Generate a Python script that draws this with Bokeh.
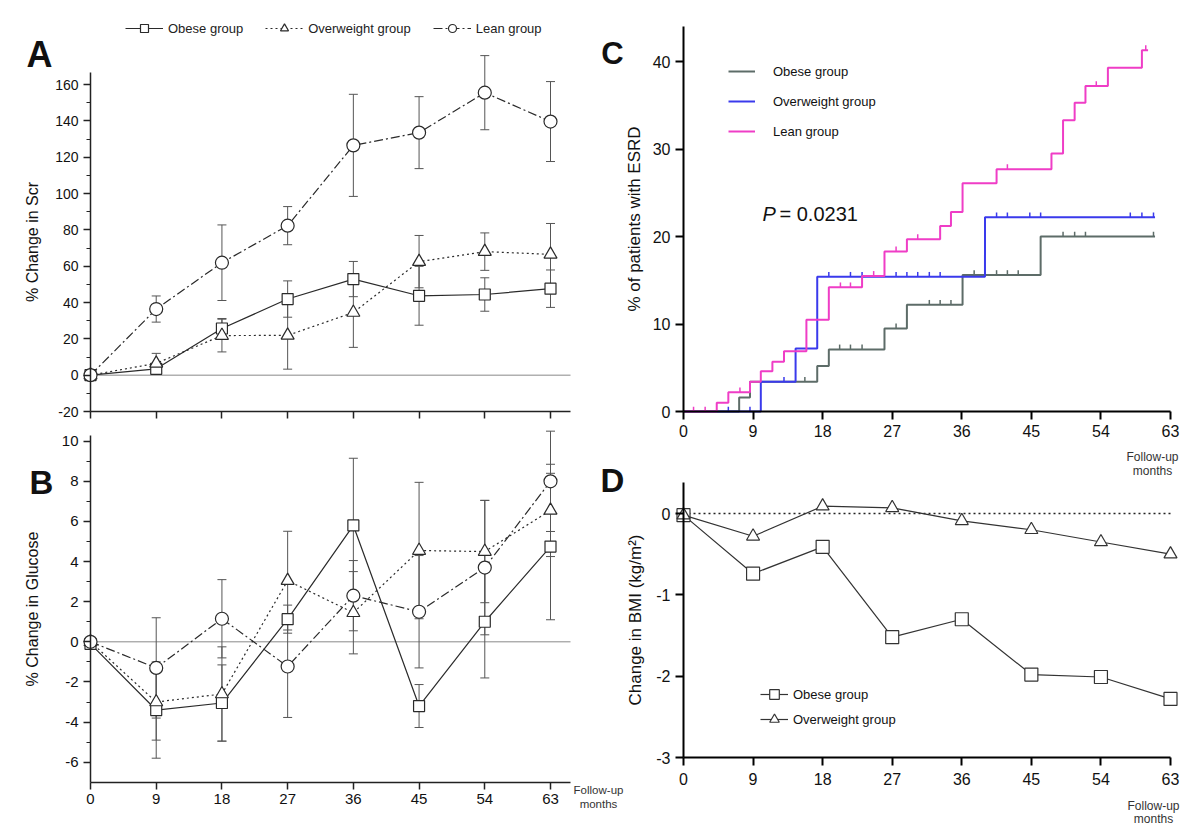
import numpy as np
from bokeh.plotting import figure
from bokeh.models import (ColumnDataSource, Whisker, TeeHead, Label, Legend,
                          LegendItem, FixedTicker, Range1d)
from bokeh.layouts import row, column
from bokeh.embed import file_html
from bokeh.resources import INLINE

FONT = "Liberation Sans"

# ---------------- data ----------------
months = [0, 9, 18, 27, 36, 45, 54, 63]
groups = ["Obese group", "Overweight group", "Lean group"]

# Panel A: % change in serum creatinine (mean, error)
scr_obese = [0, 3.5, 25.7, 41.9, 52.9, 43.7, 44.4, 47.6]
scr_obese_err = [0, 1.5, 5.5, 10.0, 9.7, 16.2, 9.2, 10.3]
scr_over = [0, 6.5, 21.8, 21.9, 34.5, 62.5, 68.0, 66.5]
scr_over_err = [0, 5.5, 9.0, 18.6, 19.2, 14.4, 10.3, 17.0]
scr_lean = [0, 36.4, 61.9, 82.3, 126.5, 133.5, 155.5, 139.6]
scr_lean_err = [0, 7.2, 20.8, 10.5, 28.1, 19.8, 20.4, 22.0]
a_yticks = [-20, 0, 20, 40, 60, 80, 100, 120, 140, 160]
a_yminor = [-10, 10, 30, 50, 70, 90, 110, 130, 150]

# Panel B: % change in glucose
glu_obese = [-0.1, -3.4, -3.05, 1.13, 5.8, -3.2, 1.0, 4.75]
glu_obese_err = [0, 2.4, 1.9, 0.7, 3.35, 1.07, 2.8, 3.65]
glu_over = [0, -3.0, -2.6, 3.05, 1.45, 4.55, 4.5, 6.55]
glu_over_err = [0, 1.9, 2.35, 2.46, 2.05, 3.4, 2.55, 2.3]
glu_lean = [0, -1.3, 1.15, -1.23, 2.3, 1.5, 3.7, 8.0]
glu_lean_err = [0, 2.5, 1.95, 2.54, 1.75, 2.8, 3.35, 2.5]
b_yticks = [-6, -4, -2, 0, 2, 4, 6, 8, 10]
b_yminor = [-5, -3, -1, 1, 3, 5, 7, 9]

# Panel C: cumulative % of patients with ESRD (step times and levels) + censor times
esrd_obese_t = [0, 7.2, 8.6, 17.3, 18.8, 26.0, 28.9, 36.1, 46.2, 61.0]
esrd_obese_y = [0, 1.6, 3.4, 5.2, 7.1, 9.5, 12.2, 15.6, 20.0, 20.0]
esrd_obese_cens = [15.7, 20.2, 21.6, 23.1, 27.5, 31.8, 33.2, 34.6, 37.6, 40.5,
                   41.9, 43.3, 49.1, 50.6, 52.0, 60.8]
esrd_over_t = [0, 10.0, 14.5, 17.3, 39.0, 61.0]
esrd_over_y = [0, 3.4, 7.2, 15.4, 22.2, 22.2]
esrd_over_cens = [5.8, 8.6, 13.0, 18.8, 21.6, 23.1, 27.5, 28.9, 30.3, 31.8, 33.2,
                  40.5, 41.9, 44.8, 46.2, 57.8, 59.3, 60.8]
esrd_lean_t = [0, 4.3, 5.8, 8.6, 10.0, 11.5, 13.0, 15.9, 18.8, 23.1, 26.0, 28.9,
               33.2, 34.6, 36.1, 40.5, 47.6, 49.1, 50.6, 52.0, 54.9, 59.3, 60.1]
esrd_lean_y = [0, 1.0, 2.2, 3.4, 4.6, 5.7, 6.9, 10.5, 14.2, 15.5, 18.3, 19.7,
               21.2, 22.8, 26.1, 27.7, 29.5, 33.3, 35.3, 37.2, 39.3, 41.3, 41.3]
esrd_lean_cens = [1.3, 2.8, 7.3, 20.3, 21.6, 24.6, 27.5, 30.3, 41.9, 53.4, 59.8]
c_yticks = [0, 10, 20, 30, 40]
p_value_text = "= 0.0231"

# Panel D: change in BMI
bmi_obese = [-0.02, -0.74, -0.41, -1.52, -1.30, -1.98, -2.01, -2.28]
bmi_over = [-0.02, -0.28, 0.09, 0.07, -0.09, -0.20, -0.35, -0.50]
d_yticks = [-3, -2, -1, 0]

# ---------------- layout: figure boxes (page px) and axis anchors ----------------
# box = (left, top, width, height); anchors = ((value, page px), (value, page px))
PANELS = {
    "A": dict(box=(0, 0, 624, 425), xa=((0, 90), (63, 550)), ya=((-20, 411), (160, 84)),
              xb=(0, 65.74), yb=(-20, 166.6)),
    "B": dict(box=(0, 425, 624, 392), xa=((0, 90), (63, 550)), ya=((-6, 761.7), (10, 440.7)),
              xb=(0, 65.74), yb=(-7, 10.3)),
    "C": dict(box=(624, 0, 570, 478), xa=((0, 683), (63, 1170)), ya=((0, 411), (40, 61)),
              xb=(0, 63), yb=(0, 44)),
    "D": dict(box=(624, 478, 570, 347), xa=((0, 683), (63, 1170)), ya=((0, 513), (-3, 757)),
              xb=(0, 63), yb=(-3, 0.38)),
}
for k, pn in PANELS.items():
    L, T, W, H = pn["box"]
    (v1, p1), (v2, p2) = pn["xa"]
    sx = (p2 - p1) / (v2 - v1)
    pn["x0"] = v1 + (L - p1) / sx
    pn["x1"] = v1 + (L + W - p1) / sx
    (u1, q1), (u2, q2) = pn["ya"]
    sy = (q1 - q2) / (u2 - u1)
    pn["y0"] = u1 - (T + H - q1) / sy
    pn["y1"] = u1 + (q1 - T) / sy


def dx(k, px):
    pn = PANELS[k]
    L, T, W, H = pn["box"]
    return pn["x0"] + (px - L) / W * (pn["x1"] - pn["x0"])


def dy(k, py):
    pn = PANELS[k]
    L, T, W, H = pn["box"]
    return pn["y0"] + (T + H - py) / H * (pn["y1"] - pn["y0"])


def make_fig(k):
    pn = PANELS[k]
    L, T, W, H = pn["box"]
    p = figure(frame_width=W, frame_height=H,
               x_range=Range1d(pn["x0"], pn["x1"]), y_range=Range1d(pn["y0"], pn["y1"]),
               min_border=0, output_backend="svg", toolbar_location=None, tools="")
    p.grid.visible = False
    p.outline_line_color = None
    p.background_fill_color = "white"
    p.border_fill_color = "white"
    p.xaxis.fixed_location = pn["yb"][0]
    p.yaxis.fixed_location = pn["xb"][0]
    p.xaxis.bounds = pn["xb"]
    p.yaxis.bounds = pn["yb"]
    return p


def style_axes(p, tick_font, width, color, tick_out):
    for ax in (p.xaxis[0], p.yaxis[0]):
        ax.axis_line_width = width
        ax.axis_line_color = color
        ax.major_tick_line_color = color
        ax.major_tick_line_width = width
        ax.minor_tick_line_color = color
        ax.minor_tick_line_width = 1
        ax.major_tick_in = 0
        ax.major_tick_out = tick_out
        ax.minor_tick_in = 0
        ax.minor_tick_out = 4
        ax.major_label_text_font = FONT
        ax.major_label_text_font_size = tick_font
        ax.major_label_text_color = "#111111"
        ax.axis_label_text_font = FONT
        ax.axis_label_text_font_style = "normal"
        ax.axis_label_text_color = "#111111"


def add_label(p, k, px, py, text, size, style="normal", align="center",
              baseline="middle", color="#111111"):
    p.add_layout(Label(x=dx(k, px), y=dy(k, py), text=text, text_font=FONT,
                       text_font_size=size, text_font_style=style, text_align=align,
                       text_baseline=baseline, text_color=color))


MK = {"Obese group": ("square", 11, "solid"),
      "Overweight group": ("triangle", 13, "2 3"),
      "Lean group": ("circle", 13, "9 3 2 3")}
LINE_C = "#2a2a2a"
ERR_C = "#555555"


def add_series(p, name, ys, errs):
    marker, size, dash = MK[name]
    xs = [m for m, e in zip(months, errs) if e > 0]
    up = [y + e for y, e in zip(ys, errs) if e > 0]
    lo = [y - e for y, e in zip(ys, errs) if e > 0]
    src = ColumnDataSource(dict(x=xs, upper=up, lower=lo))
    w = Whisker(source=src, base="x", upper="upper", lower="lower",
                line_color=ERR_C, line_width=1, level="underlay",
                upper_head=TeeHead(size=9, line_color=ERR_C, line_width=1),
                lower_head=TeeHead(size=9, line_color=ERR_C, line_width=1))
    p.add_layout(w)
    lr = p.line(months, ys, line_color=LINE_C, line_width=1.2, line_dash=dash)
    sr = p.scatter(months, ys, marker=marker, size=size, fill_color="white",
                   line_color=LINE_C, line_width=1.2)
    return lr, sr


# ---------------- Panel A ----------------
pA = make_fig("A")
style_axes(pA, "14px", 1.5, "#222222", 7)
pA.xaxis.ticker = FixedTicker(ticks=months)
pA.xaxis.major_label_text_color = None
pA.yaxis.ticker = FixedTicker(ticks=a_yticks, minor_ticks=a_yminor)
pA.yaxis.major_label_overrides = {t: str(t) for t in a_yticks}
pA.yaxis.axis_label = "% Change in Scr"
pA.yaxis.axis_label_text_font_size = "16px"
pA.yaxis.axis_label_standoff = 11
pA.segment(x0=[PANELS["A"]["xb"][0]], y0=[0], x1=[PANELS["A"]["xb"][1]], y1=[0],
           line_color="#b0b0b0", line_width=1.5, level="underlay")
itemsA = []
for name, ys, es in [("Obese group", scr_obese, scr_obese_err),
                     ("Overweight group", scr_over, scr_over_err),
                     ("Lean group", scr_lean, scr_lean_err)]:
    lr, sr = add_series(pA, name, ys, es)
    itemsA.append(LegendItem(label=name, renderers=[lr, sr]))
legA = Legend(items=itemsA, orientation="horizontal", location=(125, 387),
              background_fill_alpha=0, border_line_color=None, padding=0, margin=0,
              label_text_font=FONT, label_text_font_size="13px",
              label_text_color="#222222", glyph_width=38, glyph_height=20,
              label_height=20, label_standoff=5, spacing=22)
pA.add_layout(legA)
add_label(pA, "A", 39, 54, "A", "36px", style="bold", baseline="alphabetic")
add_label(pA, "A", 612, 53, "C", "31px", style="bold", baseline="alphabetic")

# ---------------- Panel B ----------------
pB = make_fig("B")
style_axes(pB, "15px", 1.5, "#222222", 7)
pB.xaxis.ticker = FixedTicker(ticks=months)
pB.yaxis.ticker = FixedTicker(ticks=b_yticks, minor_ticks=b_yminor)
pB.yaxis.major_label_overrides = {t: str(t) for t in b_yticks}
pB.yaxis.axis_label = "% Change in Glucose"
pB.yaxis.axis_label_text_font_size = "16px"
pB.yaxis.axis_label_standoff = 18
pB.segment(x0=[PANELS["B"]["xb"][0]], y0=[0], x1=[PANELS["B"]["xb"][1]], y1=[0],
           line_color="#8a8a8a", line_width=1, level="underlay")
for name, ys, es in [("Obese group", glu_obese, glu_obese_err),
                     ("Overweight group", glu_over, glu_over_err),
                     ("Lean group", glu_lean, glu_lean_err)]:
    add_series(pB, name, ys, es)
add_label(pB, "B", 41, 482, "B", "33px", style="bold", baseline="alphabetic")
add_label(pB, "B", 612, 480, "D", "33px", style="bold", baseline="alphabetic")
add_label(pB, "B", 598, 789, "Follow-up", "11.5px", color="#333333")
add_label(pB, "B", 598, 803, "months", "11.5px", color="#333333")

# ---------------- Panel C ----------------
pC = make_fig("C")
style_axes(pC, "16px", 2, "#000000", 8)
pC.xaxis.ticker = FixedTicker(ticks=months)
pC.yaxis.ticker = FixedTicker(ticks=c_yticks)
pC.xaxis.major_label_standoff = 5
pC.yaxis.major_label_standoff = 5
pC.yaxis.axis_label = "% of patients with ESRD"
pC.yaxis.axis_label_text_font_size = "17px"
pC.yaxis.axis_label_standoff = 6

KM_COL = {"Obese group": "#5d6c68", "Overweight group": "#3a3aec",
          "Lean group": "#ef3dc6"}
itemsC = []
for name, t, yv, cens in [("Obese group", esrd_obese_t, esrd_obese_y, esrd_obese_cens),
                          ("Overweight group", esrd_over_t, esrd_over_y, esrd_over_cens),
                          ("Lean group", esrd_lean_t, esrd_lean_y, esrd_lean_cens)]:
    col = KM_COL[name]
    sr = pC.step(t, yv, mode="after", line_color=col, line_width=2)
    idx = np.searchsorted(np.array(t), np.array(cens), side="right") - 1
    cy = np.array(yv)[idx]
    pC.segment(x0=cens, y0=cy, x1=cens, y1=cy + 0.55, line_color=col, line_width=1.5)
    tick_r = pC.scatter(x=[], y=[], marker="dash", angle=np.pi / 2, size=7,
                        line_color=col, line_width=1.5)
    itemsC.append(LegendItem(label=name, renderers=[sr, tick_r]))
legC = Legend(items=itemsC, orientation="vertical", location=(104, 337),
              background_fill_alpha=0, border_line_color=None, padding=0, margin=0,
              label_text_font=FONT, label_text_font_size="13px",
              label_text_color="#111111", glyph_width=27, glyph_height=20,
              label_height=20, label_standoff=18, spacing=10)
pC.add_layout(legC)
add_label(pC, "C", 762, 213, "P", "20px", style="italic", align="left")
add_label(pC, "C", 779, 213, p_value_text, "20px", align="left")
add_label(pC, "C", 1152, 456, "Follow-up", "12px", color="#333333")
add_label(pC, "C", 1152, 470, "months", "12px", color="#333333")

# ---------------- Panel D ----------------
pD = make_fig("D")
style_axes(pD, "16px", 2, "#000000", 8)
pD.xaxis.ticker = FixedTicker(ticks=months)
pD.xaxis.major_label_standoff = 7
pD.yaxis.ticker = FixedTicker(ticks=d_yticks)
pD.yaxis.major_label_overrides = {t: str(t) for t in d_yticks}
pD.yaxis.major_label_standoff = 5
pD.yaxis.axis_label = "Change in BMI (kg/m²)"
pD.yaxis.axis_label_text_font_size = "17px"
pD.yaxis.axis_label_standoff = 8
pD.segment(x0=[months[0]], y0=[0], x1=[months[-1]], y1=[0], line_color="#222222",
           line_width=1.5, line_dash="2 3")
itemsD = []
for name, ys, mk in [("Obese group", bmi_obese, "square"),
                     ("Overweight group", bmi_over, "triangle")]:
    lr = pD.line(months, ys, line_color="#333333", line_width=1.2)
    sr = pD.scatter(months, ys, marker=mk, size=13, fill_color="white",
                    line_color="#333333", line_width=1.2)
    itemsD.append(LegendItem(label=name, renderers=[lr, sr]))
legD = Legend(items=itemsD, orientation="vertical", location=(136, 94),
              background_fill_alpha=0, border_line_color=None, padding=0, margin=0,
              label_text_font=FONT, label_text_font_size="13px",
              label_text_color="#111111", glyph_width=28, glyph_height=24,
              label_height=24, label_standoff=5, spacing=1)
pD.add_layout(legD)
add_label(pD, "D", 1153, 805, "Follow-up", "12px", color="#333333")
add_label(pD, "D", 1153, 818, "months", "12px", color="#333333")

layout = row(column(pA, pB), column(pC, pD))
open("out.html", "w").write(file_html(layout, INLINE))
